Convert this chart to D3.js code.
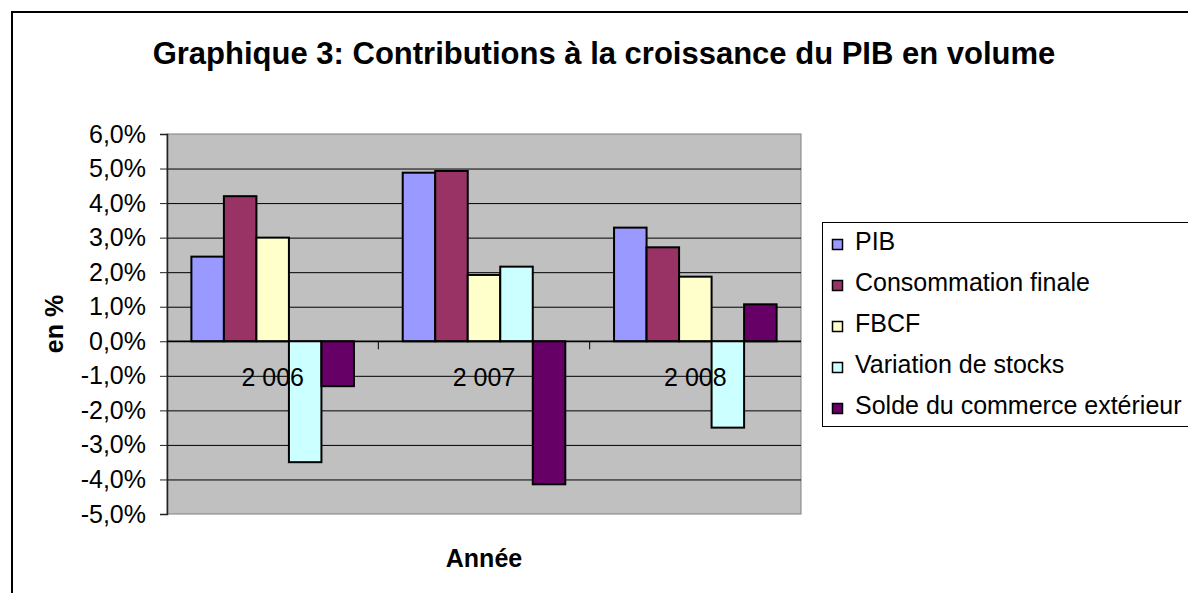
<!DOCTYPE html>
<html>
<head>
<meta charset="utf-8">
<script src="https://cdn.jsdelivr.net/npm/d3@7"></script>
<style>
    body { margin: 0; background: #fff; }
    svg { display: block; font-family: "Liberation Sans", Arial, sans-serif; }
</style>
</head>
<body>
<svg id="chart" width="1188" height="593"></svg>
<script>
// categories and series
const years = ["2 006", "2 007", "2 008"];
const series_names = ["PIB", "Consommation finale", "FBCF", "Variation de stocks", "Solde du commerce extérieur"];

// values, in %
const pib = [2.45, 4.88, 3.29];
const consommation = [4.2, 4.93, 2.72];
const fbcf = [3.0, 1.92, 1.87];
const stocks = [-3.5, 2.16, -2.5];
const solde = [-1.3, -4.14, 1.07];

const y_ticks = [-5, -4, -3, -2, -1, 0, 1, 2, 3, 4, 5, 6];

const colors = ["#9999FF", "#993366", "#FFFFCC", "#CCFFFF", "#660066"];

const values = [pib, consommation, fbcf, stocks, solde];

const svg = d3.select("#chart");

// plot area
const plotLeft = 167, plotRight = 801, plotTop = 134, plotBottom = 514;

const fr = d3.formatLocale({
    decimal: ",",
    thousands: " ",
    grouping: [3],
    currency: ["", " €"],
    minus: "-",
    percent: "%"
});
const fmt = fr.format(".1%");

const x = d3.scaleBand()
    .domain(years)
    .range([plotLeft, plotRight])
    .padding(0);

const xs = d3.scaleBand()
    .domain(series_names)
    .range([0, x.bandwidth()])
    .paddingInner(0)
    .paddingOuter(0.75);

const y = d3.scaleLinear()
    .domain([-5, 6])
    .range([plotBottom, plotTop]);

// outer frame of the chart
svg.append("rect")
    .attr("x", 12)
    .attr("y", 12)
    .attr("width", 1400)
    .attr("height", 800)
    .attr("fill", "#fff")
    .attr("stroke", "#000")
    .attr("stroke-width", 2);

// title
svg.append("text")
    .attr("x", 604)
    .attr("y", 64)
    .attr("text-anchor", "middle")
    .attr("font-size", 31)
    .attr("font-weight", "bold")
    .text("Graphique 3: Contributions à la croissance du PIB en volume");

svg.append("rect")
    .attr("x", plotLeft)
    .attr("y", plotTop)
    .attr("width", plotRight - plotLeft)
    .attr("height", plotBottom - plotTop)
    .attr("fill", "#C0C0C0")
    .attr("stroke", "#808080")
    .attr("stroke-width", 1);

// gridlines
svg.append("g")
    .attr("transform", `translate(${plotLeft},0)`)
    .call(d3.axisLeft(y)
        .tickValues(y_ticks.filter(d => d > -5 && d < 6))
        .tickSize(-(plotRight - plotLeft))
        .tickFormat(""))
    .call(g => g.select(".domain").remove())
    .call(g => g.selectAll("line").attr("stroke", "#000").attr("stroke-width", 1));

// value axis
let yAxis = svg.append("g")
    .attr("transform", `translate(${plotLeft},0)`)
    .call(d3.axisLeft(y)
        .tickValues(y_ticks)
        .tickSize(7)
        .tickPadding(14)
        .tickFormat(d => fmt(d / 100)));

yAxis.select(".domain")
    .attr("stroke", "#222")
    .attr("stroke-width", 1.5);
yAxis.selectAll("line").attr("stroke", "#222");
yAxis.selectAll("text")
    .attr("font-size", 25)
    .attr("font-family", "Liberation Sans, Arial, sans-serif")
    .attr("fill", "#000");

// bars
const groups = svg.append("g")
    .selectAll("g")
    .data(years)
    .join("g")
    .attr("transform", d => `translate(${x(d)},0)`);

groups.selectAll("rect")
    .data((d, i) => series_names.map((s, k) => ({ name: s, value: values[k][i], k: k })))
    .join("rect")
    .attr("x", d => xs(d.name))
    .attr("y", d => y(Math.max(0, d.value)))
    .attr("width", xs.bandwidth())
    .attr("height", d => Math.abs(y(d.value) - y(0)))
    .attr("fill", d => colors[d.k])
    .attr("stroke", "#000")
    .attr("stroke-width", 2);

// category axis at zero
const y0 = y(0);
svg.append("line")
    .attr("x1", plotLeft)
    .attr("x2", plotRight)
    .attr("y1", y0)
    .attr("y2", y0)
    .attr("stroke", "#000")
    .attr("stroke-width", 1.5);

svg.append("g")
    .selectAll("line")
    .data(years.slice(1))
    .join("line")
    .attr("x1", d => x(d))
    .attr("x2", d => x(d))
    .attr("y1", y0)
    .attr("y2", y0 + 8)
    .attr("stroke", "#000");

svg.append("g")
    .selectAll("text")
    .data(years)
    .join("text")
    .attr("x", d => x(d) + x.bandwidth() / 2)
    .attr("y", y0 + 45)
    .attr("text-anchor", "middle")
    .attr("font-size", 25)
    .text(d => d);

// axis titles
svg.append("text")
    .attr("x", (plotLeft + plotRight) / 2)
    .attr("y", 567)
    .attr("text-anchor", "middle")
    .attr("font-size", 25)
    .attr("font-weight", "bold")
    .text("Année");

svg.append("text")
    .attr("transform", `translate(63,${(plotTop + plotBottom) / 2}) rotate(-90)`)
    .attr("text-anchor", "middle")
    .attr("font-size", 25)
    .attr("font-weight", "bold")
    .text("en %");

// legend
const legend = svg.append("g");

legend.append("rect")
    .attr("x", 822.5)
    .attr("y", 222.5)
    .attr("width", 500)
    .attr("height", 204)
    .attr("fill", "#fff")
    .attr("stroke", "#000")
    .attr("stroke-width", 1);

const items = legend.selectAll("g")
    .data(series_names)
    .join("g")
    .attr("transform", (d, i) => `translate(0,${250 + i * 41})`);

items.append("rect")
    .attr("x", 832.5)
    .attr("y", -10.5)
    .attr("width", 10)
    .attr("height", 10)
    .attr("fill", (d, i) => colors[i])
    .attr("stroke", "#000")
    .attr("stroke-width", 1.5);

items.append("text")
    .attr("x", 855)
    .attr("y", 0)
    .attr("font-size", 25)
    .text(d => d);
</script>
</body>
</html>
